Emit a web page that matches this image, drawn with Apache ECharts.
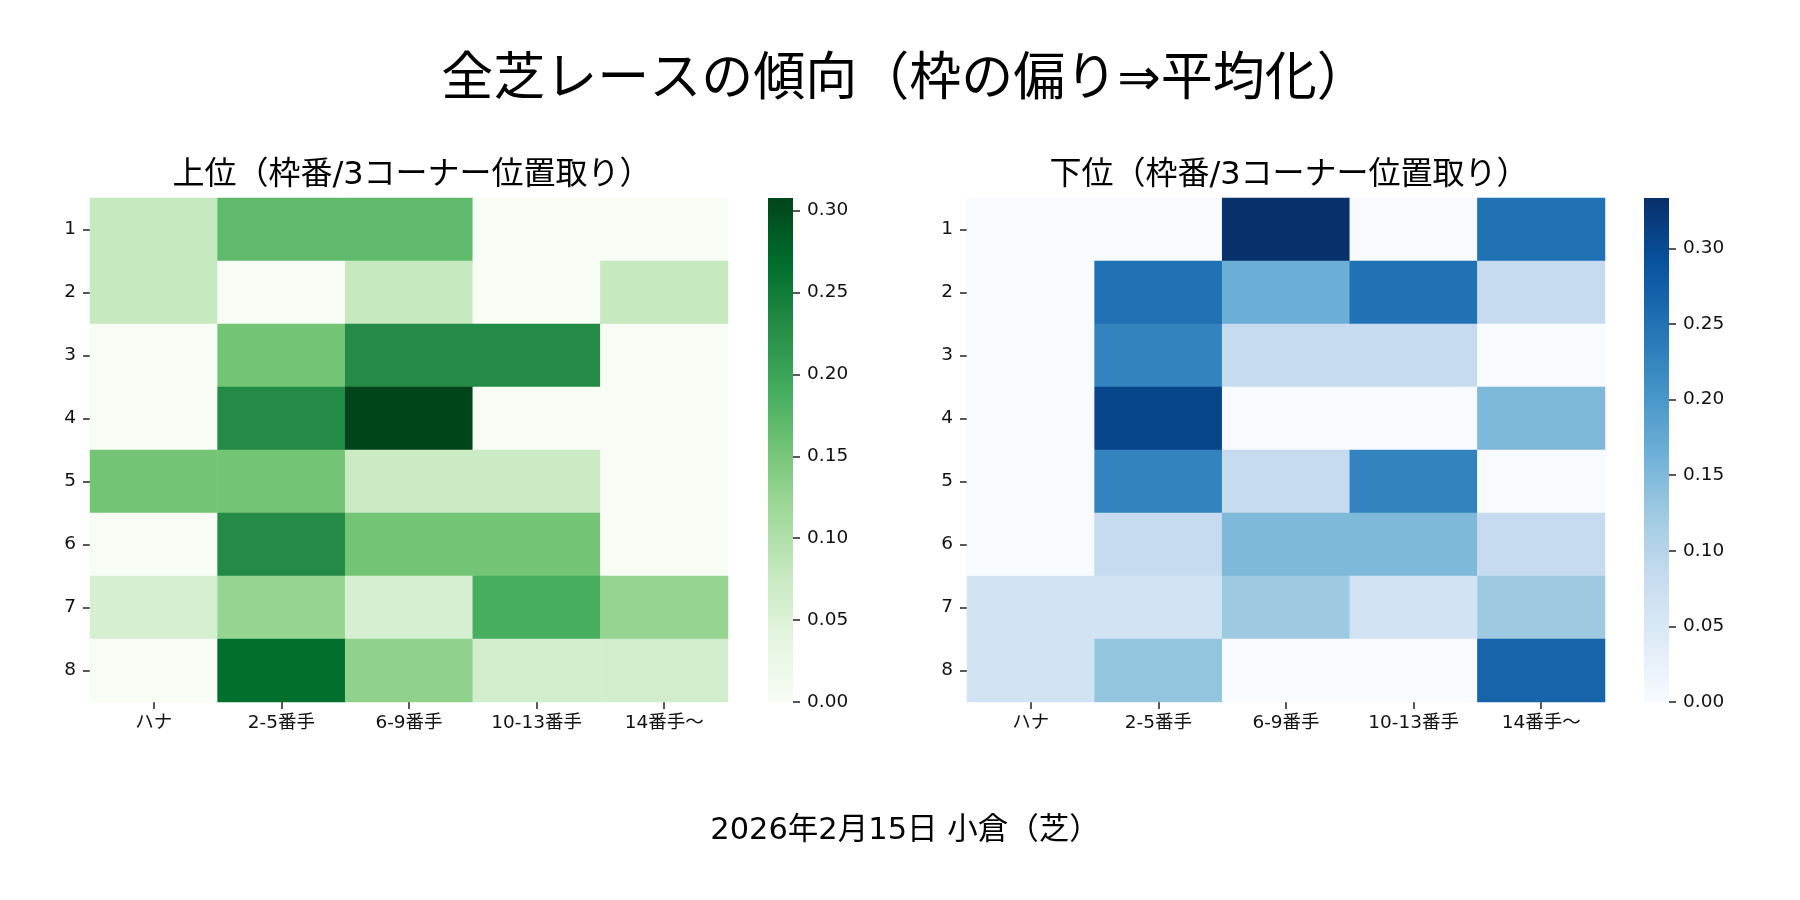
<!DOCTYPE html>
<html>
<head>
<meta charset="utf-8">
<script src="https://cdn.jsdelivr.net/npm/echarts@6/dist/echarts.min.js"></script>
<style>
html,body{margin:0;padding:0;background:#fff;}
#main{width:1800px;height:900px;}
</style>
</head>
<body>
<div id="main"></div>
<script>
// categories
var colLabels = ['ハナ', '2-5番手', '6-9番手', '10-13番手', '14番手～'];
var rowLabels = ['1', '2', '3', '4', '5', '6', '7', '8'];
var cbTicks = [0, 0.05, 0.10, 0.15, 0.20, 0.25, 0.30];

// 上位 (rows = 枠番 1..8, cols = position)
var upperRows = [
  [0.077, 0.170, 0.170, 0,     0    ],
  [0.077, 0,     0.077, 0,     0.077],
  [0,     0.154, 0.231, 0.231, 0    ],
  [0,     0.231, 0.3077,0,     0    ],
  [0.154, 0.154, 0.072, 0.072, 0    ],
  [0,     0.231, 0.154, 0.154, 0    ],
  [0.058, 0.125, 0.058, 0.188, 0.125],
  [0,     0.267, 0.130, 0.063, 0.063]
];
// 下位
var lowerRows = [
  [0,     0,     0.3333,0,     0.250],
  [0,     0.250, 0.167, 0.250, 0.083],
  [0,     0.227, 0.083, 0.083, 0    ],
  [0,     0.305, 0,     0,     0.150],
  [0,     0.227, 0.083, 0.227, 0    ],
  [0,     0.083, 0.150, 0.150, 0.083],
  [0.063, 0.063, 0.125, 0.063, 0.125],
  [0.063, 0.133, 0,     0,     0.267]
];

var greens = ['#f7fcf5','#e5f5e0','#c7e9c0','#a1d99b','#74c476','#41ab5d','#238b45','#006d2c','#00441b'];
var blues  = ['#f7fbff','#deebf7','#c6dbef','#9ecae1','#6baed6','#4292c6','#2171b5','#08519c','#08306b'];

var FONT = '"DejaVu Sans", "Noto Sans CJK JP", sans-serif';

function toCells(rows) {
  var out = [];
  rows.forEach(function (r, i) {
    r.forEach(function (v, j) { out.push([j, i, v]); });
  });
  return out;
}
function maxOf(rows) {
  return Math.max.apply(null, rows.map(function (r) { return Math.max.apply(null, r); }));
}
function gradient(cmap) {
  var stops = [];
  for (var i = 0; i < cmap.length; i++) {
    stops.push({offset: i / (cmap.length - 1), color: cmap[cmap.length - 1 - i]});
  }
  return new echarts.graphic.LinearGradient(0, 0, 0, 1, stops);
}

var upperMax = maxOf(upperRows);
var lowerMax = maxOf(lowerRows);

var tickLbl = {fontFamily: FONT, fontSize: 18.5, color: '#111'};

function heatX(g) {
  return {
    type: 'category', gridIndex: g, data: colLabels, position: 'bottom',
    axisLine: {show: false},
    axisTick: {show: true, alignWithLabel: true, length: 7, lineStyle: {color: '#222', width: 1.5}},
    axisLabel: Object.assign({margin: 12}, tickLbl),
    splitLine: {show: false}
  };
}
function heatY(g) {
  return {
    type: 'category', gridIndex: g, data: rowLabels, inverse: true,
    axisLine: {show: false},
    axisTick: {show: true, alignWithLabel: true, length: 7, lineStyle: {color: '#222', width: 1.5}},
    axisLabel: Object.assign({margin: 14}, tickLbl),
    splitLine: {show: false}
  };
}
function cbX(g) {
  return {type: 'category', gridIndex: g, data: [''], show: false};
}
function cbY(g, vmax) {
  return {
    type: 'value', gridIndex: g, min: 0, max: vmax, interval: 0.05, position: 'right',
    axisLine: {show: false},
    splitLine: {show: false},
    axisTick: {show: true, length: 7, customValues: cbTicks, lineStyle: {color: '#222', width: 1.5}},
    axisLabel: Object.assign({margin: 14, customValues: cbTicks,
      formatter: function (v) { return v.toFixed(2); }}, tickLbl)
  };
}

var chart = echarts.init(document.getElementById('main'));
chart.setOption({
  backgroundColor: '#fff',
  animation: false,
  title: [
    {text: '全芝レースの傾向（枠の偏り⇒平均化）', left: 900, top: 50, textAlign: 'center',
     textStyle: {fontFamily: FONT, fontSize: 52, fontWeight: 'normal', color: '#000'}},
    {text: '上位（枠番/3コーナー位置取り）', left: 407, top: 155, textAlign: 'center',
     textStyle: {fontFamily: FONT, fontSize: 32, fontWeight: 'normal', color: '#000'}},
    {text: '下位（枠番/3コーナー位置取り）', left: 1284, top: 155, textAlign: 'center',
     textStyle: {fontFamily: FONT, fontSize: 32, fontWeight: 'normal', color: '#000'}},
    {text: '2026年2月15日 小倉（芝）', left: 900, top: 811, textAlign: 'center',
     textStyle: {fontFamily: FONT, fontSize: 30.5, fontWeight: 'normal', color: '#000'}}
  ],
  grid: [
    {left: 90, top: 198, width: 638, height: 504},
    {left: 768, top: 198, width: 25, height: 504},
    {left: 967, top: 198, width: 638, height: 504},
    {left: 1644, top: 198, width: 25, height: 504}
  ],
  xAxis: [heatX(0), cbX(1), heatX(2), cbX(3)],
  yAxis: [heatY(0), cbY(1, upperMax), heatY(2), cbY(3, lowerMax)],
  visualMap: [
    {type: 'continuous', show: false, seriesIndex: 0, dimension: 2, min: 0, max: upperMax,
     inRange: {color: greens}},
    {type: 'continuous', show: false, seriesIndex: 2, dimension: 2, min: 0, max: lowerMax,
     inRange: {color: blues}}
  ],
  series: [
    {type: 'heatmap', xAxisIndex: 0, yAxisIndex: 0, data: toCells(upperRows),
     itemStyle: {borderWidth: 0}, emphasis: {disabled: true}},
    {type: 'bar', xAxisIndex: 1, yAxisIndex: 1, data: [upperMax], barWidth: '100%',
     itemStyle: {color: gradient(greens)}, silent: true},
    {type: 'heatmap', xAxisIndex: 2, yAxisIndex: 2, data: toCells(lowerRows),
     itemStyle: {borderWidth: 0}, emphasis: {disabled: true}},
    {type: 'bar', xAxisIndex: 3, yAxisIndex: 3, data: [lowerMax], barWidth: '100%',
     itemStyle: {color: gradient(blues)}, silent: true}
  ]
});
</script>
</body>
</html>
